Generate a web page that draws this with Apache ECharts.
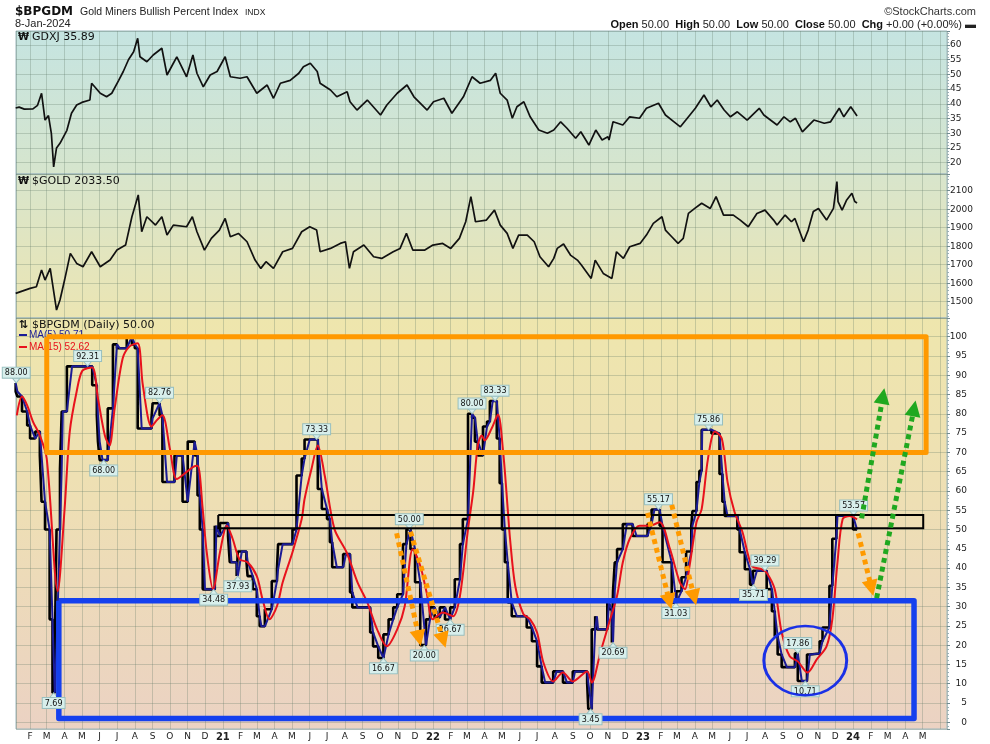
<!DOCTYPE html>
<html><head><meta charset="utf-8">
<script src="https://cdn.jsdelivr.net/npm/echarts@6/dist/echarts.min.js"></script>
<style>html,body{margin:0;padding:0;background:#fff}#c{width:990px;height:744px}</style>
</head><body><div id="c"></div>
<script>
// ---------------- DATA ----------------
const gdxj = [
['2020-01-07',38.6],['2020-01-13',38.9],['2020-01-22',38.2],['2020-02-06',38.3],['2020-02-14',39.5],['2020-02-21',43.6],['2020-02-27',34.5],['2020-03-04',36],['2020-03-09',30],['2020-03-13',18.6],['2020-03-18',25],['2020-03-24',26.6],['2020-03-30',28.8],['2020-04-05',31],['2020-04-13',36.8],['2020-04-22',39.6],['2020-05-01',40.5],['2020-05-15',41.3],['2020-05-18',47],['2020-06-02',43.6],['2020-06-13',42.4],['2020-06-22',43.6],['2020-07-04',48],['2020-07-12',51],['2020-07-21',55],['2020-07-30',57.7],['2020-08-06',62.3],['2020-08-10',56],['2020-08-22',54.3],['2020-09-02',56.6],['2020-09-17',58.9],['2020-09-26',49.8],['2020-10-07',53.8],['2020-10-13',56],['2020-10-30',49.2],['2020-11-10',56.6],['2020-11-17',50.4],['2020-11-28',45.8],['2020-12-10',49.8],['2020-12-22',51],['2021-01-05',56],['2021-01-14',49.2],['2021-01-31',48.7],['2021-02-12',49.2],['2021-03-01',43.6],['2021-03-19',46.4],['2021-03-30',41.9],['2021-04-11',47],['2021-04-28',48],['2021-05-13',50.4],['2021-05-21',52.6],['2021-06-02',53.8],['2021-06-14',51],['2021-06-19',47],['2021-07-07',44.7],['2021-07-18',42.4],['2021-08-05',44.1],['2021-08-10',40.7],['2021-08-22',37.9],['2021-09-09',41.3],['2021-10-02',36.2],['2021-10-13',39.6],['2021-10-31',43.6],['2021-11-17',46.4],['2021-11-29',42.4],['2021-12-22',37.9],['2022-01-02',40.7],['2022-01-20',41.9],['2022-02-03',36.8],['2022-02-23',42.4],['2022-03-10',49.2],['2022-03-24',47],['2022-04-11',48],['2022-04-20',50.4],['2022-04-28',43.6],['2022-05-10',41.3],['2022-05-19',35.1],['2022-05-27',39],['2022-06-08',40.7],['2022-06-19',35.6],['2022-07-04',31.1],['2022-07-19',30],['2022-07-30',31.1],['2022-08-11',33.9],['2022-08-22',31.7],['2022-09-06',28.3],['2022-09-15',30.5],['2022-09-29',26],['2022-10-11',31.1],['2022-10-22',27.7],['2022-11-01',28.8],['2022-11-03',27.7],['2022-11-10',33.9],['2022-11-27',32.8],['2022-12-09',35.6],['2022-12-26',35.1],['2023-01-07',38.5],['2023-01-28',40.2],['2023-02-09',36.2],['2023-02-24',33.9],['2023-03-07',32.2],['2023-03-19',35.1],['2023-04-02',38.5],['2023-04-17',43],['2023-04-29',39],['2023-05-10',41.3],['2023-05-22',37.9],['2023-06-02',35.6],['2023-06-14',37.3],['2023-07-01',34.5],['2023-07-22',38.5],['2023-07-30',36.2],['2023-08-22',32.8],['2023-09-03',35.6],['2023-09-14',33.9],['2023-09-23',35.1],['2023-10-05',30.5],['2023-10-25',34.5],['2023-11-12',33.4],['2023-11-23',33.9],['2023-12-08',38.5],['2023-12-16',35.6],['2023-12-28',39],['2024-01-03',37.3],['2024-01-08',35.89]
];
const gold = [
['2020-01-07',1545],['2020-02-01',1572],['2020-02-12',1581],['2020-02-21',1671],['2020-02-27',1617],['2020-03-07',1680],['2020-03-18',1455],['2020-03-24',1509],['2020-04-01',1617],['2020-04-11',1761],['2020-04-22',1707],['2020-05-03',1689],['2020-05-18',1770],['2020-06-02',1689],['2020-06-19',1725],['2020-07-01',1779],['2020-07-16',1806],['2020-07-27',1959],['2020-08-07',2077],['2020-08-13',1878],['2020-08-22',1959],['2020-09-06',1914],['2020-09-17',1959],['2020-09-26',1860],['2020-10-07',1914],['2020-10-30',1905],['2020-11-09',1959],['2020-11-17',1878],['2020-11-30',1779],['2020-12-12',1842],['2020-12-26',1887],['2021-01-05',1950],['2021-01-14',1851],['2021-01-28',1869],['2021-02-12',1824],['2021-02-26',1725],['2021-03-08',1680],['2021-03-17',1716],['2021-03-30',1680],['2021-04-15',1770],['2021-05-02',1788],['2021-05-18',1878],['2021-06-01',1905],['2021-06-13',1887],['2021-06-19',1770],['2021-07-07',1788],['2021-07-24',1815],['2021-08-02',1824],['2021-08-09',1680],['2021-08-16',1770],['2021-09-03',1806],['2021-09-20',1743],['2021-10-04',1734],['2021-10-24',1770],['2021-11-05',1788],['2021-11-16',1869],['2021-11-27',1779],['2021-12-18',1779],['2022-01-01',1806],['2022-01-18',1815],['2022-02-01',1788],['2022-02-16',1842],['2022-02-27',1932],['2022-03-08',2068],['2022-03-16',1932],['2022-04-04',1941],['2022-04-18',1995],['2022-04-28',1914],['2022-05-10',1869],['2022-05-20',1788],['2022-05-30',1860],['2022-06-14',1860],['2022-06-26',1824],['2022-07-06',1743],['2022-07-21',1689],['2022-07-30',1734],['2022-08-05',1788],['2022-08-16',1812],['2022-08-28',1752],['2022-09-09',1725],['2022-09-16',1698],['2022-10-03',1626],['2022-10-10',1725],['2022-10-24',1653],['2022-11-08',1626],['2022-11-16',1770],['2022-11-28',1734],['2022-12-09',1797],['2022-12-27',1815],['2023-01-07',1860],['2023-01-19',1923],['2023-02-03',1959],['2023-02-09',1887],['2023-02-20',1851],['2023-03-03',1815],['2023-03-12',1842],['2023-03-21',1977],['2023-04-01',2004],['2023-04-13',2032],['2023-04-28',2004],['2023-05-08',2068],['2023-05-21',1968],['2023-06-07',1968],['2023-06-19',1941],['2023-07-03',1905],['2023-07-18',1977],['2023-08-01',1995],['2023-08-16',1941],['2023-08-22',1914],['2023-09-05',1968],['2023-09-16',1932],['2023-09-22',1950],['2023-10-07',1824],['2023-10-15',1887],['2023-10-24',1987],['2023-11-02',2004],['2023-11-16',1941],['2023-11-28',2004],['2023-12-04',2149],['2023-12-06',2041],['2023-12-13',1995],['2023-12-21',2050],['2023-12-30',2086],['2024-01-04',2041],['2024-01-08',2033.5]
];
const bpgdm = [
['2020-01-07',88],['2020-01-10',85.8],['2020-01-18',84.5],['2020-01-27',80.6],['2020-02-01',77],['2020-02-10',73.6],['2020-02-18',75.4],['2020-02-21',69.2],['2020-02-27',57.2],['2020-03-06',50],['2020-03-11',26.7],['2020-03-15',7.69],['2020-03-18',18.9],['2020-03-24',50],['2020-03-27',65.7],['2020-03-29',80.6],['2020-04-05',80.6],['2020-04-14',92.31],['2020-05-19',92.31],['2020-05-27',87.4],['2020-05-29',79.6],['2020-06-01',72.8],['2020-06-06',68],['2020-06-15',68],['2020-06-24',81.4],['2020-07-01',98],['2020-07-06',97],['2020-07-18',97],['2020-07-27',100],['2020-08-01',98],['2020-08-06',97],['2020-08-13',76.2],['2020-08-30',76.2],['2020-09-01',78.8],['2020-09-13',82.76],['2020-09-18',79.6],['2020-09-26',62.3],['2020-10-09',62.3],['2020-10-13',69.2],['2020-10-23',69.2],['2020-11-01',57.2],['2020-11-13',72.8],['2020-11-18',69.2],['2020-11-22',58.8],['2020-11-27',50],['2020-12-01',34.48],['2020-12-18',34.48],['2020-12-21',51],['2020-12-27',48.3],['2021-01-10',51.7],['2021-01-13',48.3],['2021-01-16',41.5],['2021-01-25',41.5],['2021-01-27',37.93],['2021-02-03',44.3],['2021-02-11',44.3],['2021-02-13',41.8],['2021-02-22',37.9],['2021-03-01',34.5],['2021-03-06',27.5],['2021-03-09',24.9],['2021-03-15',24.9],['2021-03-27',29.3],['2021-04-05',36.6],['2021-04-07',39.7],['2021-04-15',46.2],['2021-05-02',46.2],['2021-05-09',50],['2021-05-18',64],['2021-05-23',68.4],['2021-06-01',73.33],['2021-06-15',73.33],['2021-06-22',60.5],['2021-07-01',55.3],['2021-07-06',52.7],['2021-07-10',46.7],['2021-07-18',40.2],['2021-07-29',40.2],['2021-08-03',43.6],['2021-08-10',43.6],['2021-08-14',33.7],['2021-08-23',29.8],['2021-09-14',29.8],['2021-09-19',23.3],['2021-09-28',19.7],['2021-10-07',16.67],['2021-10-16',22.8],['2021-10-24',26.7],['2021-10-31',29.8],['2021-11-10',33.2],['2021-11-16',46.2],['2021-11-23',50],['2021-12-01',44.9],['2021-12-10',36.3],['2021-12-20',20],['2021-12-27',26.7],['2022-01-04',29.8],['2022-01-13',27.2],['2022-01-22',29.8],['2022-01-31',26.67],['2022-02-08',29.8],['2022-02-17',37.1],['2022-02-22',46.2],['2022-03-03',52.7],['2022-03-10',80],['2022-03-15',79],['2022-03-20',72.8],['2022-03-29',69.2],['2022-04-05',76.7],['2022-04-10',78],['2022-04-15',83.33],['2022-04-22',83.33],['2022-04-27',73.6],['2022-05-01',62],['2022-05-06',50],['2022-05-11',41.5],['2022-05-18',31.1],['2022-05-27',27.5],['2022-06-13',27.5],['2022-06-22',24.6],['2022-07-01',21],['2022-07-09',14.5],['2022-07-15',10.3],['2022-07-29',10.3],['2022-08-04',13.2],['2022-08-15',13.2],['2022-08-22',10.3],['2022-09-01',10.3],['2022-09-05',13.2],['2022-09-26',13.2],['2022-09-28',10.3],['2022-10-04',3.45],['2022-10-10',24.1],['2022-10-13',27.5],['2022-10-15',24.1],['2022-10-31',24.1],['2022-11-03',31.1],['2022-11-08',29.3],['2022-11-10',20.69],['2022-11-13',34],['2022-11-17',41.5],['2022-11-27',44.9],['2022-12-04',51.4],['2022-12-14',51.4],['2022-12-21',48.3],['2023-01-09',48.3],['2023-01-16',51.4],['2023-01-21',55.17],['2023-01-30',55.17],['2023-02-04',51],['2023-02-20',41.5],['2023-02-28',31.03],['2023-03-09',34],['2023-03-17',37.6],['2023-03-26',44.3],['2023-03-28',51],['2023-04-04',54.8],['2023-04-09',62.3],['2023-04-13',65.2],['2023-04-14',75.86],['2023-04-30',75.86],['2023-05-14',74.9],['2023-05-19',64.4],['2023-05-23',57.2],['2023-05-28',53.5],['2023-06-14',53.5],['2023-06-18',50],['2023-06-27',44.1],['2023-07-06',39.7],['2023-07-11',35.71],['2023-07-18',39.29],['2023-08-04',39.29],['2023-08-13',34.5],['2023-08-18',28.8],['2023-08-23',22.3],['2023-08-30',17.6],['2023-09-08',14.3],['2023-09-22',14.3],['2023-09-27',17.86],['2023-10-04',10.71],['2023-10-13',10.71],['2023-10-18',17.6],['2023-11-04',17.86],['2023-11-09',21],['2023-11-21',24.6],['2023-11-26',35.4],['2023-12-03',47.6],['2023-12-05',53.57],['2024-01-01',53.57],['2024-01-08',50]
];
const ma15 = [
['2020-01-09',79.6],['2020-01-18',84.5],['2020-01-27',82.2],['2020-02-06',78],['2020-02-18',74.4],['2020-03-01',68.4],['2020-03-20',34],['2020-04-01',55.3],['2020-04-10',75.4],['2020-04-22',85.8],['2020-05-02',91.2],['2020-05-19',92],['2020-05-29',84],['2020-06-10',74.4],['2020-06-18',71.8],['2020-06-27',81.4],['2020-07-11',94.4],['2020-07-23',97.5],['2020-08-06',98.3],['2020-08-15',87.4],['2020-08-30',76.7],['2020-09-08',78.3],['2020-09-18',79.6],['2020-10-01',70.9],['2020-10-13',63.1],['2020-10-30',64.9],['2020-11-10',66.2],['2020-11-18',66.5],['2020-11-27',55.3],['2020-12-04',44.1],['2020-12-15',34.5],['2020-12-27',44.1],['2021-01-08',51],['2021-01-18',47.6],['2021-01-30',42.3],['2021-02-13',41.5],['2021-03-01',37.9],['2021-03-11',31.9],['2021-03-23',26.7],['2021-04-05',30.1],['2021-04-15',36.3],['2021-05-02',44.1],['2021-05-18',52.7],['2021-05-23',57.9],['2021-06-04',65.7],['2021-06-15',71.8],['2021-06-27',64],['2021-07-14',50.1],['2021-08-04',44.1],['2021-08-23',36.3],['2021-09-09',31.1],['2021-09-26',24.1],['2021-10-13',19.7],['2021-10-31',24.1],['2021-11-13',30.1],['2021-11-27',44.9],['2021-12-10',40.6],['2021-12-21',33.7],['2022-01-01',26.7],['2022-01-18',28.5],['2022-02-05',27.5],['2022-02-17',32.8],['2022-03-03',50.1],['2022-03-12',59.8],['2022-03-20',71.8],['2022-03-27',74.4],['2022-04-01',73.1],['2022-04-13',76.2],['2022-04-24',79.8],['2022-05-03',70.2],['2022-05-11',55.3],['2022-05-15',47.6],['2022-05-24',35.4],['2022-06-07',28.1],['2022-06-19',26.7],['2022-07-01',23.3],['2022-07-12',15.5],['2022-07-29',10.6],['2022-08-15',12.9],['2022-09-01',10.6],['2022-09-26',13.2],['2022-10-04',10.3],['2022-10-19',18.1],['2022-11-05',26.7],['2022-11-17',32.8],['2022-11-27',41.5],['2022-12-09',47.6],['2022-12-26',51],['2023-01-13',51],['2023-01-30',51.9],['2023-02-17',44.9],['2023-03-06',36.3],['2023-03-15',34.5],['2023-03-23',40.6],['2023-04-04',51.9],['2023-04-13',55.3],['2023-04-24',68.4],['2023-05-06',75.4],['2023-05-18',73.6],['2023-05-28',62.3],['2023-06-09',54.6],['2023-06-23',49.3],['2023-07-09',40.6],['2023-07-26',39.7],['2023-08-04',38.8],['2023-08-18',34.5],['2023-08-30',23.3],['2023-09-13',17.1],['2023-09-27',15.8],['2023-10-14',12.9],['2023-10-30',16.3],['2023-11-16',19.7],['2023-11-26',26.7],['2023-12-05',41.5],['2023-12-14',52.7],['2023-12-26',53.5],['2024-01-08',52.62]
];
// value callouts: date, value, text
const callouts = [
['2020-01-08',88,'88.00'],['2020-05-11',92.31,'92.31'],['2020-06-08',68,'68.00'],['2020-09-13',82.76,'82.76'],['2020-03-13',7.69,'7.69'],['2020-12-16',34.48,'34.48'],['2021-01-27',37.93,'37.93'],['2021-06-13',73.33,'73.33'],['2021-10-07',16.67,'16.67'],['2021-11-21',50,'50.00'],['2021-12-17',20,'20.00'],['2022-01-31',26.67,'26.67'],['2022-03-10',80,'80.00'],['2022-04-19',83.33,'83.33'],['2022-10-02',3.45,'3.45'],['2022-11-10',20.69,'20.69'],['2023-01-28',55.17,'55.17'],['2023-02-27',31.03,'31.03'],['2023-04-25',75.86,'75.86'],['2023-07-12',35.71,'35.71'],['2023-08-01',39.29,'39.29'],['2023-09-27',17.86,'17.86'],['2023-10-10',10.71,'10.71'],['2024-01-02',53.57,'53.57']
];
const calloutsBelow = ['68.00','7.69','34.48','37.93','16.67','20.00','26.67','3.45','20.69','31.03','35.71','10.71'];

// hand-drawn annotations (data coordinates)
const orangeBox = [['2020-03-01',100],['2024-05-07',100],['2024-05-07',70],['2020-03-01',70],['2020-03-01',100]];
const blueBox = [['2020-03-22',31.5],['2024-04-16',31.5],['2024-04-16',1.0],['2020-03-22',1.0],['2020-03-22',31.5]];
const blackBox = [['2020-12-24',53.75],['2024-05-02',53.75],['2024-05-02',50.3],['2020-12-24',50.3],['2020-12-24',53.75]];
const orangeArrows = [
 [['2021-10-30',49.0],['2021-12-08',21.8]],
 [['2021-11-23',49.4],['2022-01-19',21.3]],
 [['2023-01-09',54.3],['2023-02-16',31.3]],
 [['2023-02-20',56.4],['2023-03-31',32.4]],
 [['2024-01-10',49.0],['2024-02-02',34.8]]
];
const greenArrows = [
 [['2024-01-16',52.9],['2024-02-22',84.6]],
 [['2024-02-11',32.2],['2024-04-16',81.4]]
];
const ellipse = [['2023-10-10',16.0,'2023-12-21',25.0]];

// ---------------- CHART ----------------
const chart = echarts.init(document.getElementById('c'));
const XMIN = '2020-01-07 14:00', XMAX = '2024-06-12 07:00';
const gridLine = 'rgba(95,118,100,0.28)';
const AX_FONT = 'DejaVu Sans';
const SANS = '"Liberation Sans", Arial, sans-serif';
function grad(stops){ return new echarts.graphic.LinearGradient(0,0,0,1,stops.map((c,i)=>({offset:c[0],color:c[1]}))); }
const gridCommon = {left:16, right:43, show:true, borderColor:'#9cb6bc', borderWidth:1};
function xAx(i, labels){
  return {
    type:'time', gridIndex:i, min:XMIN, max:XMAX,
    splitNumber:60, minInterval:27*864e5, maxInterval:32*864e5,
    axisLine:{show:false}, axisTick:{show:false},
    splitLine:{show:true, lineStyle:{color:gridLine, width:1}},
    axisLabel: labels ? {
      show:true, margin:3, interval:0, hideOverlap:false,
      formatter:function(v){
        const d=new Date(v); const m=d.getMonth(), y=d.getFullYear();
        if (d.getDate()!==1) return '';
        if (y===2024 && m>4) return '';
        return m===0 ? '{y|'+String(y).slice(2)+'}' : '{m|'+'JFMAMJJASOND'[m]+'}';
      },
      rich:{m:{fontSize:9,fontFamily:AX_FONT,color:'#222'}, y:{fontSize:10,fontWeight:'bold',fontFamily:AX_FONT,color:'#222'}}
    } : {show:false}
  };
}
function yAx(i, min, max, split, alignRight){
  return {
    type:'value', gridIndex:i, position:'right', min:min, max:max, splitNumber:split, scale:true,
    axisLine:{show:false},
    axisTick:{show:true, length:3, lineStyle:{color:'#6f8a90'}},
    minorTick:{show:true, splitNumber:5, length:2, lineStyle:{color:'#9ab0b5'}},
    splitLine:{show:true, lineStyle:{color:gridLine, width:1}},
    axisLabel:{show:true, showMinLabel:false, showMaxLabel:false, margin: alignRight?20:3, align: alignRight?'right':'left',
      formatter: v => String(v),
      fontSize:9, fontFamily:AX_FONT, color:'#222'}
  };
}
const labelBg = '#d8efec', labelBorder = '#98bfbf';
const markData = callouts.map(c=>{
  const below = calloutsBelow.indexOf(c[2])>=0;
  return {
    coord:[c[0],c[1]], name:c[2],
    symbol: below ? 'path://M5,0L10,7L0,7Z' : 'path://M0,0L10,0L5,7Z',
    symbolSize:[8,5], symbolOffset:[0, below?2.5:-2.5],
    label:{position: below?'bottom':'top', distance:0}
  };
});

const option = {
  animation:false,
  backgroundColor:'#ffffff',
  grid:[
    Object.assign({top:31, height:143, backgroundColor:grad([[0,'#c5e4e1'],[1,'#d6e5cd']])}, gridCommon),
    Object.assign({top:174, height:144, backgroundColor:grad([[0,'#d8e5cc'],[1,'#ebe5b3']])}, gridCommon),
    Object.assign({top:318, height:411, backgroundColor:grad([[0,'#eee6ad'],[0.45,'#eedfb4'],[1,'#ebd2c3']])}, gridCommon)
  ],
  xAxis:[xAx(0,false), xAx(1,false), xAx(2,true)],
  yAxis:[yAx(0,16.16,64.76,10,false), yAx(1,1412,2190,8,false), yAx(2,-1.74,104.85,21,true)],
  graphic:[
    {type:'text', x:15, y:12, style:{text:'$BPGDM', font:'bold 12px "DejaVu Sans"', fill:'#111', verticalAlign:'middle'}},
    {type:'text', x:80, y:12.5, style:{text:'Gold Miners Bullish Percent Index', font:'10.5px '+SANS, fill:'#222', verticalAlign:'middle'}},
    {type:'text', x:245, y:12.5, style:{text:'INDX', font:'8.5px '+SANS, fill:'#222', verticalAlign:'middle'}},
    {type:'text', x:976, y:12, style:{text:'©StockCharts.com', font:'11px '+SANS, fill:'#333', align:'right', verticalAlign:'middle'}},
    {type:'text', x:15, y:24, style:{text:'8-Jan-2024', font:'11px '+SANS, fill:'#222', verticalAlign:'middle'}},
    {type:'text', x:976, y:25, style:{
      text:'{b|Open} 50.00  {b|High} 50.00  {b|Low} 50.00  {b|Close} 50.00  {b|Chg} +0.00 (+0.00%) ▬',
      font:'11px '+SANS, fill:'#222', align:'right', verticalAlign:'middle',
      rich:{b:{fontWeight:'bold', fontSize:11, fontFamily:SANS, fill:'#111'}}}},
    {type:'text', x:18, y:37, z:10, style:{text:'₩', font:'bold 10px "DejaVu Sans"', fill:'#111', verticalAlign:'middle'}},
    {type:'text', x:32, y:37, z:10, style:{text:'GDXJ 35.89', font:'11px "DejaVu Sans"', fill:'#111', verticalAlign:'middle'}},
    {type:'text', x:18, y:181, z:10, style:{text:'₩', font:'bold 10px "DejaVu Sans"', fill:'#111', verticalAlign:'middle'}},
    {type:'text', x:32, y:181, z:10, style:{text:'$GOLD 2033.50', font:'11px "DejaVu Sans"', fill:'#111', verticalAlign:'middle'}},
    {type:'text', x:19, y:325, z:10, style:{text:'⇅', font:'bold 11px "DejaVu Sans"', fill:'#111', verticalAlign:'middle'}},
    {type:'text', x:32, y:325, z:10, style:{text:'$BPGDM (Daily) 50.00', font:'11px "DejaVu Sans"', fill:'#111', verticalAlign:'middle'}},
    {type:'line', z:1, shape:{x1:19,y1:335,x2:27,y2:335}, style:{stroke:'#1b1b96', lineWidth:2}},
    {type:'text', x:29, y:335, z:1, style:{text:'MA(5) 50.71', font:'10px '+SANS, fill:'#1b1b96', verticalAlign:'middle'}},
    {type:'line', z:1, shape:{x1:19,y1:347,x2:27,y2:347}, style:{stroke:'#e8121c', lineWidth:2}},
    {type:'text', x:29, y:347, z:1, style:{text:'MA(15) 52.62', font:'10px '+SANS, fill:'#e8121c', verticalAlign:'middle'}}
  ],
  series:[
    {type:'line', xAxisIndex:0, yAxisIndex:0, data:gdxj, symbol:'none', lineStyle:{color:'#111', width:1.7}, silent:true},
    {type:'line', xAxisIndex:1, yAxisIndex:1, data:gold, symbol:'none', lineStyle:{color:'#111', width:1.7}, silent:true},
    {type:'line', xAxisIndex:2, yAxisIndex:2, data:bpgdm, symbol:'none', step:'start', lineStyle:{color:'#000', width:2.6}, silent:true,
      markPoint:{silent:true, data:markData,
        itemStyle:{color:labelBg, borderColor:labelBorder, borderWidth:0.8},
        label:{show:true, formatter:'{b}', backgroundColor:labelBg, borderColor:labelBorder, borderWidth:1,
          padding:[1,2,0,2], fontSize:8, lineHeight:9, fontFamily:AX_FONT, color:'#111'}}},
    {type:'line', xAxisIndex:2, yAxisIndex:2, data:bpgdm, symbol:'none', lineStyle:{color:'#1b1b96', width:2}, silent:true},
    {type:'line', xAxisIndex:2, yAxisIndex:2, data:ma15, symbol:'none', smooth:0.3, lineStyle:{color:'#e8121c', width:2}, silent:true},
    {type:'lines', coordinateSystem:'cartesian2d', xAxisIndex:2, yAxisIndex:2, polyline:true, z:5, silent:true,
      data:[{coords:blackBox}], symbol:'none', lineStyle:{color:'#000', width:2, opacity:1}},
    {type:'lines', coordinateSystem:'cartesian2d', xAxisIndex:2, yAxisIndex:2, polyline:true, z:5, silent:true,
      data:[{coords:orangeBox}], symbol:'none', lineStyle:{color:'#ff9900', width:5, opacity:1, join:'round'}},
    {type:'lines', coordinateSystem:'cartesian2d', xAxisIndex:2, yAxisIndex:2, polyline:true, z:5, silent:true,
      data:[{coords:blueBox}], symbol:'none', lineStyle:{color:'#1540ee', width:5.5, opacity:1, join:'round'}},
    {type:'lines', coordinateSystem:'cartesian2d', xAxisIndex:2, yAxisIndex:2, z:6, silent:true,
      data:orangeArrows.map(a=>({coords:a})), symbol:['none','triangle'], symbolSize:16,
      lineStyle:{color:'#ff9a00', width:5, opacity:1, type:[5,4]}},
    {type:'lines', coordinateSystem:'cartesian2d', xAxisIndex:2, yAxisIndex:2, z:6, silent:true,
      data:greenArrows.map(a=>({coords:a})), symbol:['none','triangle'], symbolSize:16,
      lineStyle:{color:'#20a820', width:5, opacity:1, type:[5,4]}},
    {type:'custom', xAxisIndex:2, yAxisIndex:2, z:6, silent:true,
      dimensions:[{name:'x',type:'time'},{name:'y',type:'float'},{name:'x2',type:'time'},{name:'y2',type:'float'}],
      encode:{x:0, y:1},
      data:ellipse,
      renderItem:function(params, api){
        const c = api.coord([api.value(0), api.value(1)]);
        const e = api.coord([api.value(2), api.value(3)]);
        const rx = Math.abs(e[0]-c[0]), ry = Math.abs(c[1]-e[1]);
        return {type:'circle', x:c[0], y:c[1], scaleY: ry/rx, shape:{cx:0, cy:0, r:rx},
          style:{fill:'none', stroke:'#1a30e6', lineWidth:3}};
      }}
  ]
};
chart.setOption(option);
</script>
</body></html>
